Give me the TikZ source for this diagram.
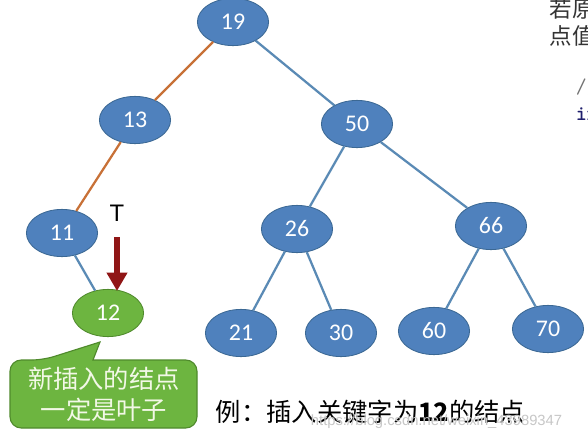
\documentclass[tikz,border=0pt]{standalone}
\usepackage{fontspec}
\setmainfont{Carlito}
\newfontfamily\cjk{Noto Sans CJK SC}
\newfontfamily\arialfont{Liberation Sans}
\usetikzlibrary{shapes.geometric,arrows.meta}

\definecolor{nodeblue}{HTML}{4F81BD}
\definecolor{nodeline}{HTML}{3B6894}
\definecolor{edgeblue}{HTML}{5A8AB5}
\definecolor{edgeorange}{HTML}{C87137}
\definecolor{leafgreen}{HTML}{6DB540}
\definecolor{leafline}{HTML}{4F8A2C}
\definecolor{leaftext}{HTML}{F2F8E6}
\definecolor{arrowred}{HTML}{901616}
\definecolor{codeblue}{HTML}{1F1F6E}

\tikzset{
  keynode/.style={ellipse, draw=nodeline, fill=nodeblue, line width=0.6pt,
    minimum width=1.78cm, minimum height=1.18cm, inner sep=0pt,
    text=white, font=\fontsize{17}{20}\selectfont},
  newnode/.style={keynode, fill=leafgreen, draw=leafline},
  treeedge/.style={draw=edgeblue, line width=1.6pt},
  searchedge/.style={draw=edgeorange, line width=1.6pt},
  pointer/.style={draw=arrowred, line width=4pt, shorten <=8pt,
    -{Triangle[width=14pt,length=13pt]}},
  callout/.style={fill=leafgreen, draw=leafline, line width=0.8pt},
}

\begin{document}
\begin{tikzpicture}[x=0.025cm, y=-0.025cm]
\useasboundingbox[fill=white] (0,0) rectangle (588,442);

% Tree nodes
\node[keynode] (n19) at (233,22) {19};
\node[keynode] (n13) at (135,120) {13};
\node[keynode] (n50) at (357,124) {50};
\node[keynode] (n11) at (62,233) {11};
\node[keynode] (n26) at (297,229) {26};
\node[keynode] (n66) at (491,226) {66};
\node[keynode] (n21) at (241,333) {21};
\node[keynode] (n30) at (341,333) {30};
\node[keynode] (n60) at (434,331) {60};
\node[keynode] (n70) at (548,329) {70};

% New leaf
\node[newnode] (n12) at (108,313) {12};

% Edges (search path in orange)
\draw[searchedge] (n19) -- (n13);
\draw[searchedge] (n13) -- (n11);
\draw[treeedge] (n11) -- (n12);
\draw[treeedge] (n19) -- (n50);
\draw[treeedge] (n50) -- (n26);
\draw[treeedge] (n50) -- (n66);
\draw[treeedge] (n26) -- (n21);
\draw[treeedge] (n26) -- (n30);
\draw[treeedge] (n66) -- (n60);
\draw[treeedge] (n66) -- (n70);

% Pointer T
\node[font=\arialfont\fontsize{17}{20}\selectfont] (T) at (117,213) {T};
\coordinate (tip) at (117,291);
\draw[pointer] (T.south) -- (tip);

% Callout
\path[callout, rounded corners=8pt] (10,394) |- (43,360)
  [sharp corners] -- (100,342) -- (93,360)
  [rounded corners=8pt] -| (197,428) -| (10,394) -- cycle;
\node[text=leaftext, align=center, font=\cjk\fontsize{18}{22}\selectfont] (note) at (104,394)
  {新插入的结点\\一定是叶子};

% Caption
\node[anchor=west, font=\cjk\fontsize{18}{20}\selectfont] (caption) at (211,412)
  {例：插入关键字为\textbf{12}的结点};
\node[anchor=west, text=black!22, font=\arialfont\fontsize{10.5}{12}\selectfont] (mark) at (306,422)
  {https://blog.csdn.net/weixin\_43989347};

% Text cut off at the right edge
\begin{scope}
\clip (0,0) rectangle (588,442);
\node[anchor=west, text=black!80, font=\cjk\fontsize{16}{20}\selectfont] (side1) at (545,9) {若原};
\node[anchor=west, text=black!80, font=\cjk\fontsize{16}{20}\selectfont] (side2) at (545,36) {点值};
\node[anchor=west, text=black!55, font=\ttfamily\fontsize{15}{18}\selectfont] (side3) at (571,87) {//};
\node[anchor=west, text=codeblue, font=\ttfamily\bfseries\fontsize{15}{18}\selectfont] (side4) at (571,114) {in};
\end{scope}

\end{tikzpicture}
\end{document}
